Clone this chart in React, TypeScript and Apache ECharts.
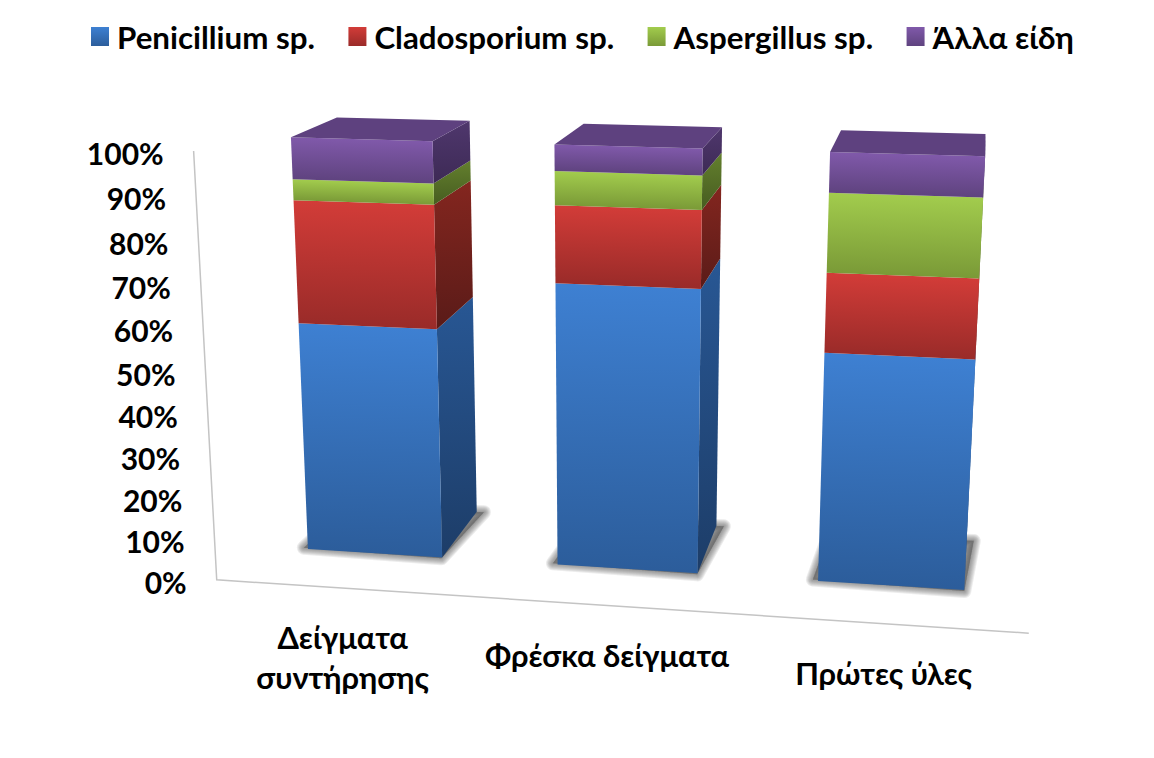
import React, { useEffect, useRef } from "react";
import * as echarts from "echarts";

const categories = ["Δείγματα\nσυντήρησης", "Φρέσκα δείγματα", "Πρώτες ύλες"];
const penicillium = [56.2, 68.2, 54.6];
const cladosporium = [29.2, 18.0, 18.4];
const aspergillus = [4.9, 7.8, 18.0];
const allaEidi = [9.7, 6.0, 9.0];
const tickValues = [0, 10, 20, 30, 40, 50, 60, 70, 80, 90, 100];
const seriesNames = ["Penicillium sp.", "Cladosporium sp.", "Aspergillus sp.", "Άλλα είδη"];
const seriesValues = [penicillium, cladosporium, aspergillus, allaEidi];

const FONT = "Lato, 'Noto Sans', sans-serif";
const GRID = { left: 216, top: 152, width: 812, height: 428 };
const X_RANGE = [-0.09, 1.09];
const FLOOR_Z = -0.695;
const BAR_RATIO = 0.543;

const WX = -0.053, WY = -0.0529, WZ = 0.0666;
const O = [308, 549], VX = [-11417, -184], VY = [612, 7920], VZ = [990, -165];

function project(X: number, Y: number, Z: number): number[] {
  const a = X * WX, b = Y * WY, c = Z * WZ;
  const w = 1 + a + b + c;
  return [
    (O[0] + a * VX[0] + b * VY[0] + c * VZ[0]) / w,
    (O[1] + a * VX[1] + b * VY[1] + c * VZ[1]) / w,
  ];
}

// Library scale -> world coordinates
function toWorld(api: any, cat: number, val: number): number[] {
  const p = api.coord([cat, val]);
  const X = X_RANGE[0] + ((p[0] - GRID.left) / GRID.width) * (X_RANGE[1] - X_RANGE[0]);
  const Y = (GRID.top + GRID.height - p[1]) / GRID.height;
  return [X, Y];
}
function halfBar(api: any): number {
  const band = api.size([1, 0])[0];
  return ((band / GRID.width) * (X_RANGE[1] - X_RANGE[0]) * BAR_RATIO) / 2;
}

const frontColors = [
  ["#3e80d2", "#2c5d9b"],
  ["#d23c38", "#9a2b29"],
  ["#a2cc4d", "#7a9a37"],
  ["#8059aa", "#5f437f"],
];
const sideColors = [
  ["#285794", "#1d3d68"],
  ["#84261f", "#5a1b18"],
  ["#64802e", "#465c20"],
  ["#4f376d", "#3d2a55"],
];
const TOP_COLOR = "#5e417f";
const AXIS_COLOR = "#c4c4c4";
const SHADOW_WIDTHS = [14, 12, 10, 8, 6, 4, 2];

function grad(c: string[]) {
  return new echarts.graphic.LinearGradient(0, 0, 0, 1, [
    { offset: 0, color: c[0] },
    { offset: 1, color: c[1] },
  ]);
}
function frontGrad(tl: number[], tr: number[], bl: number[], br: number[], c: string[]) {
  const mx = (tl[0] + tr[0]) / 2, my = (tl[1] + tr[1]) / 2;
  const dx = tr[0] - tl[0], dy = tr[1] - tl[1];
  const len = Math.hypot(dx, dy);
  const nx = -dy / len, ny = dx / len;
  const bx = (bl[0] + br[0]) / 2 - mx, by = (bl[1] + br[1]) / 2 - my;
  const d = bx * nx + by * ny;
  return new echarts.graphic.LinearGradient(
    mx, my, mx + nx * d, my + ny * d,
    [{ offset: 0, color: c[0] }, { offset: 1, color: c[1] }],
    true
  );
}

const stackedData = seriesValues.map((vals, s) =>
  vals.map((v, i) => {
    let start = 0;
    for (let k = 0; k < s; k++) start += seriesValues[k][i];
    return [i, start, start + v];
  })
);

function segmentRenderer(s: number) {
  return (_p: any, api: any) => {
    const cat = api.value(0);
    const [X, Y0] = toWorld(api, cat, api.value(1));
    const [, Y1] = toWorld(api, cat, api.value(2));
    const h = halfBar(api);
    const xl = X - h, xr = X + h;
    const bl = project(xl, Y0, 0), br = project(xr, Y0, 0);
    const tl = project(xl, Y1, 0), tr = project(xr, Y1, 0);
    const bbr = project(xr, Y0, 1), tbr = project(xr, Y1, 1), tbl = project(xl, Y1, 1);
    const children: any[] = [
      { type: "polygon", shape: { points: [br, bbr, tbr, tr] }, style: { fill: grad(sideColors[s]) } },
      { type: "polygon", shape: { points: [tl, tr, br, bl] }, style: { fill: frontGrad(tl, tr, bl, br, frontColors[s]) } },
    ];
    if (s === seriesValues.length - 1) {
      children.push({ type: "polygon", shape: { points: [tl, tr, tbr, tbl] }, style: { fill: TOP_COLOR } });
    }
    return { type: "group", children };
  };
}

function shadowRenderer(_p: any, api: any) {
  const cat = api.value(0);
  const [X, Y0] = toWorld(api, cat, 0);
  const h = halfBar(api);
  const pts = [
    project(X - h - 0.008, Y0, 0.02),
    project(X + h, Y0, -0.02),
    project(X + h + 0.012, Y0, 1.0),
    project(X - h, Y0, 0.9),
  ];
  return {
    type: "group",
    children: SHADOW_WIDTHS.map((w) => ({
      type: "polygon",
      shape: { points: pts },
      style: {
        fill: "rgba(80,80,80,0.11)",
        stroke: "rgba(80,80,80,0.11)",
        lineWidth: w,
        lineJoin: "round",
      },
    })),
  };
}

function axisRenderer() {
  const X0 = X_RANGE[0], X1 = X_RANGE[1];
  const topP = project(X0, 1, FLOOR_Z), corner = project(X0, 0, FLOOR_Z), end = project(X1, 0, FLOOR_Z);
  return {
    type: "polyline",
    shape: { points: [topP, corner, end] },
    style: { stroke: AXIS_COLOR, lineWidth: 1.5, fill: "none" },
  };
}

function tickRenderer(_p: any, api: any) {
  const v = api.value(0);
  const [, Y] = toWorld(api, 0, v);
  const p = project(X_RANGE[0], Y, FLOOR_Z);
  return {
    type: "text",
    x: p[0] - 30,
    y: p[1] + 2,
    style: {
      text: v + "%",
      font: `bold 30px ${FONT}`,
      fill: "#000",
      align: "right",
      verticalAlign: "middle",
    },
  };
}

function categoryRenderer(_p: any, api: any) {
  const cat = api.value(0);
  const [X, Y] = toWorld(api, cat, 0);
  const p = project(X, Y, FLOOR_Z);
  return {
    type: "text",
    x: p[0] - 2,
    y: p[1] + 29.5,
    style: {
      text: categories[cat],
      font: `bold 30.8px ${FONT}`,
      lineHeight: 40,
      fill: "#000",
      align: "center",
      verticalAlign: "top",
    },
  };
}

export default function App() {
  const ref = useRef<HTMLDivElement>(null);
  useEffect(() => {
    document.body.style.margin = "0";
    const chart = echarts.init(ref.current!, undefined, { renderer: "svg" });
    const catData = categories.map((_, i) => [i, 0]);
    const base = { type: "custom", silent: true, clip: false, coordinateSystem: "cartesian2d" };
    chart.setOption({
      animation: false,
      backgroundColor: "#fff",
      grid: { ...GRID, containLabel: false },
      xAxis: { type: "category", data: categories, show: false },
      yAxis: { type: "value", min: 0, max: 100, interval: 10, show: false },
      legend: {
        left: 91,
        top: 21,
        padding: 0,
        itemWidth: 18,
        itemHeight: 19,
        itemGap: 33.5,
        selectedMode: false,
        textStyle: { fontFamily: FONT, fontWeight: "bold", fontSize: 31.3, color: "#000", padding: [0, 0, 0, 3] },
        data: seriesNames.map((name, s) => ({
          name,
          icon: "rect",
          itemStyle: { color: grad(frontColors[s]) },
        })),
      },
      series: [
        { ...base, name: "axes", data: [[0, 0]], renderItem: axisRenderer, encode: { x: 0, y: 1 } },
        { ...base, name: "shadows", data: catData, renderItem: shadowRenderer, encode: { x: 0, y: 1 } },
        ...seriesNames.map((name, s) => ({
          ...base,
          name,
          data: stackedData[s],
          itemStyle: { color: frontColors[s][0] },
          renderItem: segmentRenderer(s),
          encode: { x: 0, y: [1, 2] },
        })),
        {
          ...base,
          name: "ticks",
          data: tickValues.map((v) => [v]),
          renderItem: tickRenderer,
          encode: { y: 0 },
        },
        { ...base, name: "categories", data: catData, renderItem: categoryRenderer, encode: { x: 0, y: 1 } },
      ],
    });
    return () => chart.dispose();
  }, []);
  return <div ref={ref} style={{ width: 1154, height: 758 }} />;
}
